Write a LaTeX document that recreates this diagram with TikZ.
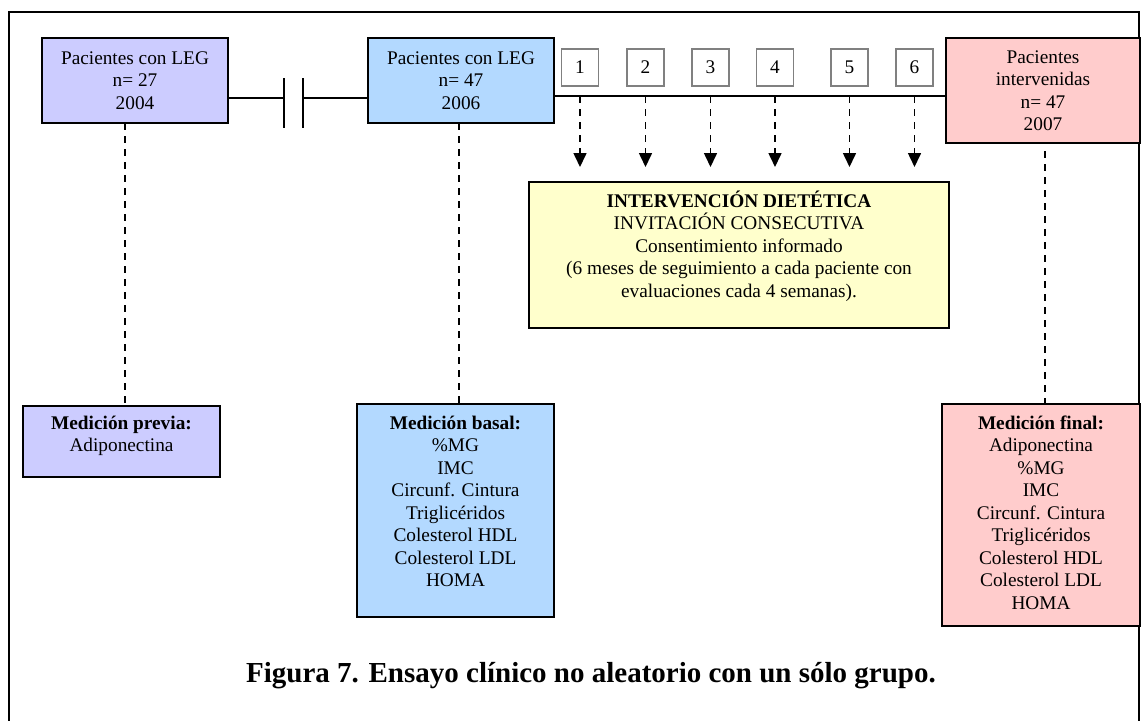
\documentclass[tikz,border=0pt]{standalone}
\usepackage{fontspec}
\setmainfont{Liberation Serif}
\usetikzlibrary{arrows.meta}

\definecolor{prevfill}{RGB}{204,204,255}
\definecolor{basefill}{RGB}{179,217,255}
\definecolor{finalfill}{RGB}{255,204,204}
\definecolor{intfill}{RGB}{255,255,204}
\definecolor{numgray}{RGB}{128,128,128}

% text block centred vertically in a box of given width/height
\newcommand{\cbox}[3]{\begin{minipage}[c][#2pt][c]{#1pt}\centering #3\end{minipage}}
% text block hung from the top; #3 = depth of the first baseline
\newcommand{\tbox}[4]{\begin{minipage}[c][#2pt][t]{#1pt}\centering\rule{0pt}{#3pt}#4\end{minipage}}

\begin{document}
\begin{tikzpicture}[x=1pt,y=-1pt,
  font=\fontsize{19.3}{22.5}\selectfont,
  box/.style={draw=black, line width=1.6pt, inner sep=0pt, outer sep=0pt, anchor=north west},
  numbox/.style={draw=numgray, fill=white, line width=1.6pt, minimum width=37pt,
                 minimum height=37pt, inner sep=0pt},
  link/.style={line width=1.5pt},
  dline/.style={line width=1.6pt, dash pattern=on 7pt off 6pt},
  darrow/.style={dline, -{Triangle[width=13pt,length=14pt]}},
]
\useasboundingbox (0,0) rectangle (1142,720);

% outer frame (open at the bottom)
\draw[link] (9,730) -- (9,12) -- (1139,12) -- (1139,730);

% groups
\node[box, fill=prevfill] (g04) at (42,38)
  {\cbox{186}{85}{Pacientes con LEG\\ n= 27\\ 2004}};
\node[box, fill=basefill] (g06) at (368,38)
  {\cbox{186}{85}{Pacientes con LEG\\ n= 47\\ 2006}};
\node[box, fill=finalfill] (g07) at (946,38)
  {\cbox{194}{105}{Pacientes\\ intervenidas\\ n= 47\\ 2007}};

% broken time axis between 2004 and 2006
\coordinate (brkA) at (284,98);
\coordinate (brkB) at (303,98);
\draw[link] (g04.east |- brkA) -- (brkA);
\draw[link] (brkA) ++(0,-20) -- ++(0,50);
\draw[link] (brkB) ++(0,-20) -- ++(0,50);
\draw[link] (brkB) -- (g06.west |- brkB);

% follow-up axis with monthly visits
\coordinate (tl) at (0,96);
\draw[link] (g06.east |- tl) -- (g07.west |- tl);

\node[numbox] (m1) at (580,67.5) {1};
\node[numbox] (m2) at (645.5,67.5) {2};
\node[numbox] (m3) at (710.5,67.5) {3};
\node[numbox] (m4) at (775,67.5) {4};
\node[numbox] (m5) at (849.5,67.5) {5};
\node[numbox] (m6) at (914.5,67.5) {6};

\foreach \i in {1,...,6}
  \draw[darrow] (m\i.south |- tl) -- ++(0,71);

% intervention
\node[box, fill=intfill] (diet) at (529,182)
  {\tbox{420}{146}{25.4}{\textbf{INTERVENCIÓN DIETÉTICA}\\ INVITACIÓN CONSECUTIVA\\
   Consentimiento informado\\ (6 meses de seguimiento a cada paciente con\\
   evaluaciones cada 4 semanas).}};

% measurements
\node[box, fill=prevfill] (prev) at (23,406)
  {\tbox{197}{71}{23.4}{\textbf{Medición previa:}\\ Adiponectina}};
\node[box, fill=basefill] (basal) at (357,404)
  {\tbox{197}{213}{25.4}{\textbf{Medición basal:}\\ \%MG\\ IMC\\ Circunf. Cintura\\
   Triglicéridos\\ Colesterol HDL\\ Colesterol LDL\\ HOMA}};
\node[box, fill=finalfill] (final) at (942,404)
  {\tbox{198}{222}{25.4}{\textbf{Medición final:}\\ Adiponectina\\ \%MG\\ IMC\\
   Circunf. Cintura\\ Triglicéridos\\ Colesterol HDL\\ Colesterol LDL\\ HOMA}};

\coordinate (v1) at (125,0);
\coordinate (v2) at (459,0);
\coordinate (v3) at (1045,0);
\draw[dline] (g04.south -| v1) -- (prev.north -| v1);
\draw[dline] (g06.south -| v2) -- (basal.north -| v2);
\draw[dline, shorten <=8pt] (g07.south -| v3) -- (final.north -| v3);

% caption
\node[anchor=base west, inner sep=0pt, font=\fontsize{29}{32}\selectfont\bfseries] (cap)
  at (246,682) {Figura 7. Ensayo clínico no aleatorio con un sólo grupo.};
\end{tikzpicture}
\end{document}
